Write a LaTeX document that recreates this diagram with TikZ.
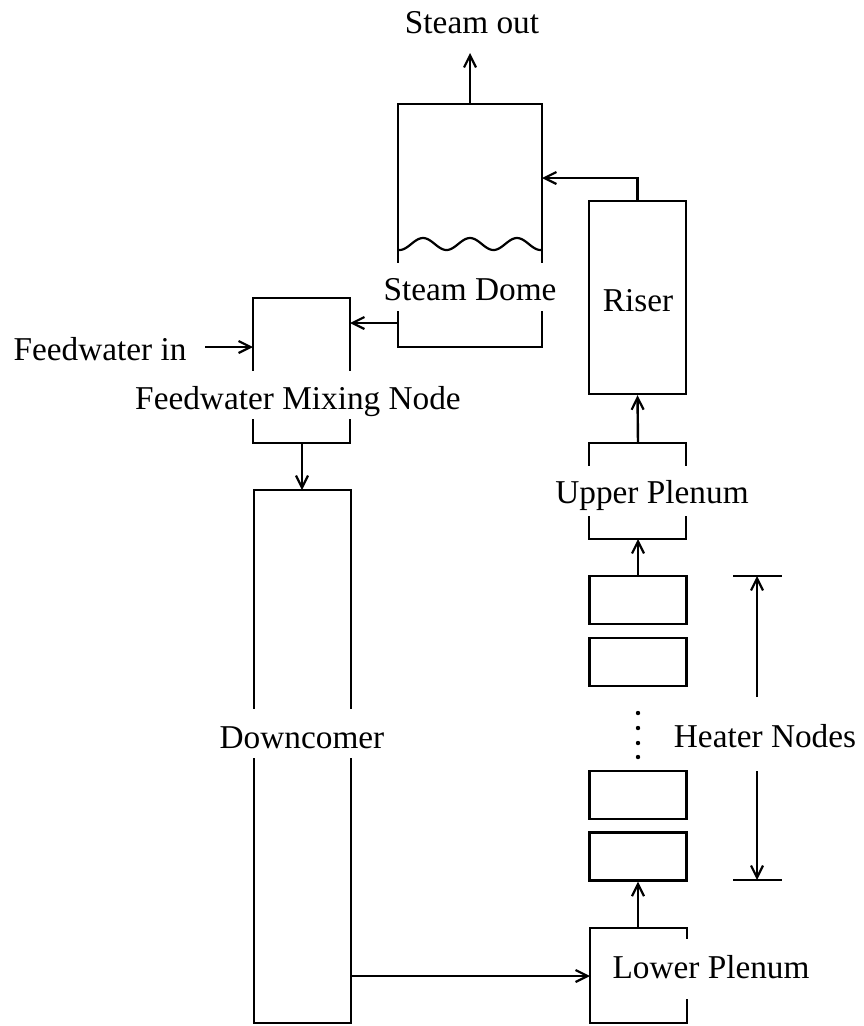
\documentclass[tikz,border=0pt]{standalone}
\usepackage{fontspec}
\setmainfont{Liberation Serif}
\usetikzlibrary{arrows.meta}
\begin{document}
\begin{tikzpicture}[x=1pt,y=-1pt,
  wall/.style={line width=2.4pt, line cap=rect},
  flow/.style={line width=2.4pt, -{Straight Barb[length=12pt,width=12pt,line width=2.2pt]}},
  lbl/.style={font=\fontsize{33.3}{40}\selectfont, anchor=base, inner sep=0pt},
  cell/.style={draw, line width=2.4pt, minimum width=97pt, minimum height=48pt, inner sep=0pt}]
\useasboundingbox[fill=white] (0,0) rectangle (863,1026);

% ---- Steam dome ----
\coordinate (sdTL) at (398,104);
\coordinate (sdTR) at (542,104);
\coordinate (sdBL) at (398,347);
\coordinate (sdBR) at (542,347);
\coordinate (sdTop) at (470,104);
\coordinate (sdIn) at (542,178);
\coordinate (sdOut) at (398,323);
\draw[wall] (398,262) -- (sdTL) -- (sdTR) -- (542,262);
\draw[wall] (398,312) -- (sdBL) -- (sdBR) -- (542,312);
\draw[line width=2.2pt] plot[domain=398:542, samples=90, smooth] (\x, {244 - 6*cos((\x-423)/47*360)});
\node[lbl] (sdl) at (470,300) {Steam Dome};
\node[lbl] (sout) at (472,33) {Steam out};
\coordinate (soutEnd) at (470,53);
\draw[flow] (sdTop) -- (soutEnd);

% ---- Feedwater mixing node ----
\coordinate (fmTL) at (253,298);
\coordinate (fmTR) at (350,298);
\coordinate (fmBL) at (253,443);
\coordinate (fmBR) at (350,443);
\draw[wall] (253,370) -- (fmTL) -- (fmTR) -- (350,370);
\draw[wall] (253,420) -- (fmBL) -- (fmBR) -- (350,420);
\node[lbl] (fml) at (298,409) {Feedwater Mixing Node};
\node[lbl] (fwin) at (100,360) {Feedwater in};
\coordinate (fwStart) at (205,347);
\coordinate (fmIn) at (253,347);
\draw[flow] (fwStart) -- (fmIn);
\coordinate (fmIn2) at (350,323);
\draw[flow] (sdOut) -- (fmIn2);
\coordinate (fmBot) at (302,443);

% ---- Downcomer ----
\coordinate (dcTL) at (254,490);
\coordinate (dcTR) at (351,490);
\coordinate (dcBL) at (254,1023);
\coordinate (dcBR) at (351,1023);
\draw[wall] (254,708) -- (dcTL) -- (dcTR) -- (351,708);
\draw[wall] (254,759) -- (dcBL) -- (dcBR) -- (351,759);
\node[lbl] (dcl) at (302,748) {Downcomer};
\coordinate (dcTop) at (302,490);
\draw[flow] (fmBot) -- (dcTop);
\coordinate (dcOut) at (351,976);

% ---- Lower plenum ----
\coordinate (lpTL) at (590,928);
\coordinate (lpTR) at (687,928);
\coordinate (lpBL) at (590,1023);
\coordinate (lpBR) at (687,1023);
\draw[wall] (687,938) -- (lpTR) -- (lpTL) -- (lpBL) -- (lpBR) -- (687,1000);
\node[lbl] (lpl) at (711,978) {Lower Plenum};
\coordinate (lpIn) at (590,976);
\draw[flow] (dcOut) -- (lpIn);
\coordinate (lpTop) at (638,928);

% ---- Heater nodes ----
\node[cell] (h1) at (638,600) {};
\node[cell] (h2) at (638,662) {};
\node[cell] (h3) at (638,795) {};
\node[cell] (h4) at (638,856.5) {};
\foreach \yy in {713,728,743,757} \fill (638,\yy) circle (2.2pt);
\draw[flow] (lpTop) -- (h4.south);

% dimension
\coordinate (dT) at (757,576);
\coordinate (dB) at (757,880);
\coordinate (dM1) at (757,697);
\coordinate (dM2) at (757,771);
\draw[line width=2.4pt] (733,576) -- (782,576);
\draw[line width=2.4pt] (733,880) -- (782,880);
\draw[flow] (dM1) -- (dT);
\draw[flow] (dM2) -- (dB);
\node[lbl] (hn) at (765,747) {Heater Nodes};

% ---- Upper plenum ----
\coordinate (upTL) at (589,443);
\coordinate (upTR) at (686,443);
\coordinate (upBL) at (589,539);
\coordinate (upBR) at (686,539);
\draw[wall] (589,465) -- (upTL) -- (upTR) -- (686,465);
\draw[wall] (589,517) -- (upBL) -- (upBR) -- (686,517);
\node[lbl] (upl) at (652,503) {Upper Plenum};
\coordinate (upBot) at (638,539);
\coordinate (upTop) at (638,443);
\draw[flow] (h1.north) -- (upBot);

% ---- Riser ----
\node[cell, minimum height=193pt] (riser) at (637.5,297.5) {};
\node[lbl] (rl) at (638,311) {Riser};
\draw[flow] (upTop) -- (riser.south);
\draw[flow] (riser.north) |- (sdIn);
\end{tikzpicture}
\end{document}
